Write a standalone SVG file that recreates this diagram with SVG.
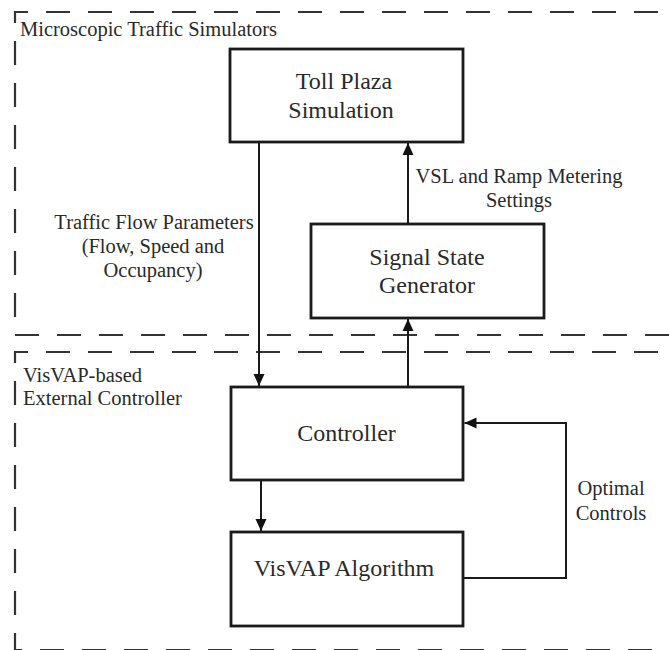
<svg xmlns="http://www.w3.org/2000/svg" width="669" height="650" viewBox="0 0 669 650">
<style>
text{font-family:"Liberation Serif","Times New Roman","DejaVu Serif",serif;fill:#2a2a2a}
.big{font-size:24px}
.lbl{font-size:20.5px}
.box{fill:#fff;stroke:#1a1a1a;stroke-width:2.8}
.region{fill:none;stroke:#333;stroke-width:2.2;stroke-dasharray:24 18}
.conn{fill:none;stroke:#1a1a1a;stroke-width:2}
</style>
<defs>
<marker id="arr" markerUnits="userSpaceOnUse" markerWidth="13" markerHeight="13" viewBox="0 0 13 13" refX="12" refY="6.5" orient="auto">
<path d="M0,1 L12,6.5 L0,12 Z" fill="#111"/>
</marker>
</defs>
<rect width="669" height="650" fill="#fff"/>
<g id="region-simulators">
<path class="region" d="M700,12 H15 V335 H700"/>
<text class="lbl" x="20" y="36" font-family="Liberation Serif, serif">Microscopic Traffic Simulators</text>
</g>
<g id="region-controller">
<path class="region" d="M700,352 H15 V650 H700"/>
<text class="lbl" x="23" y="382" font-family="Liberation Serif, serif">VisVAP-based</text>
<text class="lbl" x="23" y="405" font-family="Liberation Serif, serif">External Controller</text>
</g>
<g id="connectors" font-family="Liberation Serif, serif">
<line class="conn" x1="259" y1="143" x2="259" y2="386" marker-end="url(#arr)"/>
<line class="conn" x1="408" y1="387" x2="408" y2="319" marker-end="url(#arr)"/>
<line class="conn" x1="408" y1="224" x2="408" y2="143" marker-end="url(#arr)"/>
<line class="conn" x1="261" y1="480" x2="261" y2="531" marker-end="url(#arr)"/>
<path class="conn" d="M463,578 H566 V423 H464.5" marker-end="url(#arr)"/>
<text class="lbl" x="154" y="229" text-anchor="middle">Traffic Flow Parameters</text>
<text class="lbl" x="153" y="253" text-anchor="middle">(Flow, Speed and</text>
<text class="lbl" x="153" y="277" text-anchor="middle">Occupancy)</text>
<text class="lbl" x="519" y="183" text-anchor="middle">VSL and Ramp Metering</text>
<text class="lbl" x="519" y="207" text-anchor="middle">Settings</text>
<text class="lbl" x="611" y="495" text-anchor="middle">Optimal</text>
<text class="lbl" x="611" y="520" text-anchor="middle">Controls</text>
</g>
<g id="toll-plaza" font-family="Liberation Serif, serif">
<rect class="box" x="230" y="49" width="233" height="93"/>
<text class="big" x="344" y="89" text-anchor="middle">Toll Plaza</text>
<text class="big" x="341" y="118" text-anchor="middle">Simulation</text>
</g>
<g id="signal-state" font-family="Liberation Serif, serif">
<rect class="box" x="311" y="224" width="233" height="94"/>
<text class="big" x="427" y="265" text-anchor="middle">Signal State</text>
<text class="big" x="427" y="293" text-anchor="middle">Generator</text>
</g>
<g id="controller" font-family="Liberation Serif, serif">
<rect class="box" x="231" y="387" width="232" height="93"/>
<text class="big" x="346.5" y="441" text-anchor="middle">Controller</text>
</g>
<g id="visvap" font-family="Liberation Serif, serif">
<rect class="box" x="231" y="532" width="232" height="94"/>
<text class="big" x="344" y="576" text-anchor="middle">VisVAP Algorithm</text>
</g>
</svg>
